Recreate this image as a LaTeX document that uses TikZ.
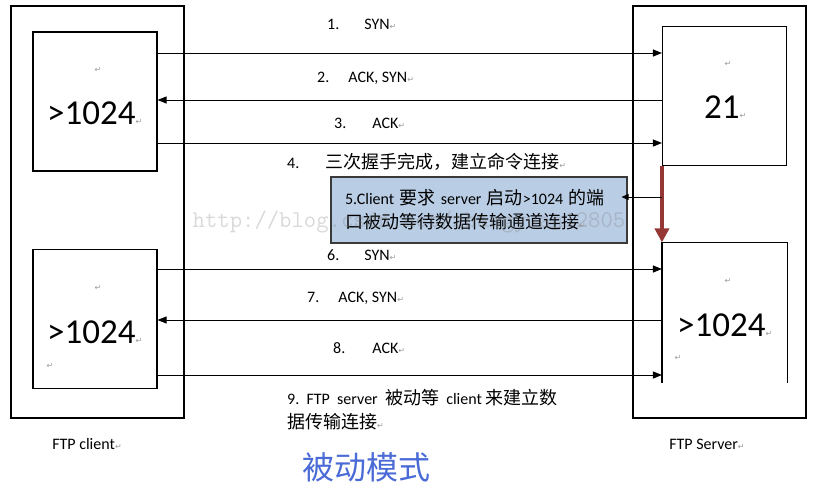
\documentclass[tikz,border=0pt]{standalone}
\usepackage{fontspec}
\setmainfont{Carlito}
\newfontfamily\cjk{Noto Sans CJK SC}
\newfontfamily\symfont{DejaVu Sans}
\usetikzlibrary{positioning, arrows.meta}
\definecolor{notefill}{HTML}{B9CDE5}
\definecolor{noteline}{HTML}{3A3A3A}
\definecolor{holdred}{HTML}{953735}
\definecolor{titleblue}{HTML}{4A6BD6}
\definecolor{markgray}{HTML}{9A9A9A}
\newcommand{\pmark}{{\symfont\fontsize{8}{8}\selectfont\color{markgray}↵}}
\newcommand{\zh}[1]{{\cjk\fontsize{18}{24}\selectfont #1}}

\begin{document}
\begin{tikzpicture}[x=1pt, y=-1pt,
    every node/.style={font=\fontsize{16}{24}\selectfont, inner sep=0pt},
    hostbox/.style={draw, rectangle, line width=1.2pt, minimum width=173pt, minimum height=412pt},
    portbox/.style={draw, rectangle, line width=1.1pt, minimum width=124pt, minimum height=139pt},
    portnum/.style={font=\fontsize{35}{35}\selectfont, anchor=west},
    msg/.style={-{Triangle[length=9pt, width=7pt]}, line width=0.9pt},
    steplabel/.style={anchor=west}]
    \useasboundingbox (0,0) rectangle (813,488);
    % Hosts
    \node[hostbox] (client) at (97.5,212) {};
    \node[hostbox] (server) at (719.5,212) {};
    \node[portbox] (cliCmd) at (95,101.5) {};
    \node[portbox] (cliData) at (95,319) {};
    \node[portbox] (srvCmd) at (724.5,96) {};
    \node[portbox, draw=none] (srvData) at (724.5,312.5) {};
    \draw[line width=1.1pt] (srvData.south west) |- (srvData.north east) -- (srvData.south east);
    % Port numbers
    \node at (98,70) {\pmark};
    \node[portnum] (cliCmdNum) at (47,113) {>1024\pmark};
    \node at (98,288) {\pmark};
    \node[portnum] (cliDataNum) at (47,332) {>1024\pmark};
    \node at (50,366) {\pmark};
    \node at (728,64) {\pmark};
    \node[portnum] (srvCmdNum) at (704,107) {21\pmark};
    \node at (728,281) {\pmark};
    \node[portnum] (srvDataNum) at (677,325) {>1024\pmark};
    \node at (678,358) {\pmark};
    % Host names
    \node (cliName) at (87,444) {FTP client\pmark};
    \node (srvName) at (707,444) {FTP Server\pmark};
    % Command connection
    \draw[msg] (cliCmd.east |- 0,53) -- (srvCmd.west |- 0,53);
    \draw[msg] (srvCmd.west |- 0,100) -- (cliCmd.east |- 0,100);
    \draw[msg] (cliCmd.east |- 0,143) -- (srvCmd.west |- 0,143);
    \node[steplabel] (step1) at (327,24) {1.\hspace{25pt}SYN\pmark};
    \node[steplabel] (step2) at (317,78) {2.\hspace{19pt}ACK, SYN\pmark};
    \node[steplabel] (step3) at (334,123) {3.\hspace{26pt}ACK\pmark};
    \node[steplabel] (step4) at (287,162) {4.\hspace{26pt}\zh{三次握手完成，建立命令连接}\pmark};
    % Passive request
    \node[draw=noteline, line width=1.1pt, fill=notefill, rectangle, minimum width=296pt, minimum height=66pt,
          text width=268pt, align=left] (note) at (479,210)
        {5.Client \zh{要求} server \zh{启动}>1024 \zh{的端}\\\zh{口被动等待数据传输通道连接}\pmark};
    \draw[-{Triangle[length=14pt, width=14pt]}, line width=3.5pt, holdred] (srvCmd.south west) -- (srvData.north west);
    \coordinate (tap) at (srvCmd.west |- 0,197);
    \draw[-{Triangle[length=7pt, width=6pt]}, line width=0.9pt] (tap) -- ([xshift=-6pt]note.east |- tap);
    % Data connection
    \draw[msg] (cliData.east |- 0,269) -- (srvData.west |- 0,269);
    \draw[msg] (srvData.west |- 0,320) -- (cliData.east |- 0,320);
    \draw[msg] (cliData.east |- 0,375) -- (srvData.west |- 0,375);
    \node[steplabel] (step6) at (327,255) {6.\hspace{25pt}SYN\pmark};
    \node[steplabel] (step7) at (307,298) {7.\hspace{19pt}ACK, SYN\pmark};
    \node[steplabel] (step8) at (333,348) {8.\hspace{27pt}ACK\pmark};
    \node[anchor=north west, align=left] (step9) at (287,389)
        {9.\ \ FTP\ \ server\ \ \zh{被动等}\ \ client\ \zh{来建立数}\\\zh{据传输连接}\pmark};
    % Title
    \node[text=titleblue] (title) at (366,467) {\cjk\fontsize{32}{32}\selectfont 被动模式};
    % Watermark
    \node[text=gray, opacity=0.3] (wmark) at (409,222) {\ttfamily\fontsize{24}{24}\selectfont http://blog.csdn.net/zhangyuan12805};
\end{tikzpicture}
\end{document}
